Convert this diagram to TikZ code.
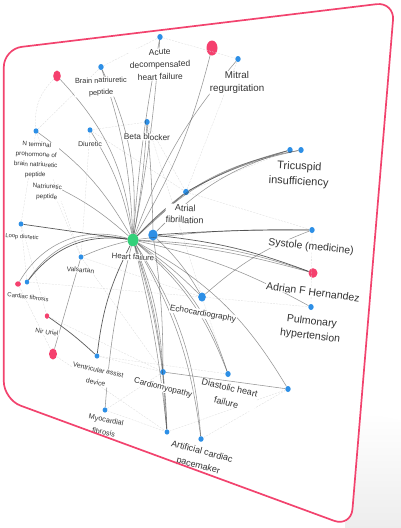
\documentclass[tikz,border=0pt]{standalone}
\usepackage{fontspec}
\setmainfont{Liberation Sans}
\usetikzlibrary{shapes.geometric}
\definecolor{cblue}{HTML}{2D8FE6}
\definecolor{cpink}{HTML}{F5406E}
\definecolor{cgreen}{HTML}{33D17A}
\definecolor{cborder}{HTML}{F2436E}
\definecolor{ctext}{HTML}{333333}
\newcommand\fsz[2]{\fontsize{#1}{#2}\selectfont}
\begin{document}
\begin{tikzpicture}[x=1pt,y=-1pt,
  bn/.style 2 args={ellipse, fill=cblue, inner sep=0pt, minimum width=#1, minimum height=#2},
  pn/.style 2 args={ellipse, fill=cpink, inner sep=0pt, minimum width=#1, minimum height=#2},
  gn/.style 2 args={ellipse, fill=cgreen, inner sep=0pt, minimum width=#1, minimum height=#2},
  lab/.style={fill=white, text=ctext, inner sep=0.5pt, align=center},
  e/.style={draw=black!75, draw opacity=.55, line width=.55pt},
  ed/.style={draw=black!80, draw opacity=.8, line width=.7pt},
  web/.style={draw=black!14, line width=.3pt, dash pattern=on 2pt off 1.2pt},
  cardfill/.style={fill=white, rounded corners=18pt},
  cardline/.style={draw=cborder, line width=1.7pt, rounded corners=18pt}]
\useasboundingbox (0,0) rectangle (401,528);
% shadow
\shade[top color=white, bottom color=black!7] (360,412) -- (401,420) -- (401,528) -- (345,528) -- cycle;
% card corners
\coordinate (cTL) at (3.8,49);
\coordinate (cTR) at (394.5,2);
\coordinate (cBR) at (351,527);
\coordinate (cBL) at (3.8,399.5);
\path[cardfill] (3.8,220) -- (cTL) -- (cTR) -- (cBR) -- (cBL) -- cycle;

% nodes
\node[bn={5.4}{6}] (adhf) at (160,37) {};
\node[bn={5.4}{6}] (bnp) at (101,67) {};
\node[pn={7.6}{11}] (pinkTL) at (57,76) {};
\node[pn={11}{15}] (pinkT) at (212,48) {};
\node[bn={5.4}{6}] (mit) at (238,59) {};
\node[bn={5.4}{6}] (bbk) at (147,122) {};
\node[bn={5}{5.4}] (diu) at (90,130) {};
\node[bn={5}{5.4}] (nt) at (36,131) {};
\coordinate (np) at (50,184);
\node[bn={5.4}{6}] (tr1) at (290,150) {};
\node[bn={5.4}{6}] (tr2) at (301,150) {};
\node[bn={5.8}{6.4}] (af) at (186,192) {};
\node[bn={4.8}{5.2}] (loop) at (21,224) {};
\node[gn={11}{12.6}] (hf) at (133,240) {};
\node[bn={9.4}{11}] (bb) at (153,235) {};
\node[bn={5.4}{6}] (sys) at (312,230) {};
\node[pn={9}{9.6}] (adr) at (313,273) {};
\node[bn={5.4}{6}] (pul) at (311,307) {};
\node[bn={7.7}{9}] (echo) at (202,297) {};
\node[bn={5.4}{6}] (dia) at (228,374) {};
\node[bn={5.4}{6}] (ext1) at (288,389) {};
\node[bn={5.6}{6}] (cm) at (163,372) {};
\node[bn={4.8}{5.2}] (pm0) at (167,432) {};
\node[bn={5.2}{5.6}] (pm) at (201,439) {};
\node[bn={4.8}{5.2}] (mf) at (105,410) {};
\node[bn={4.8}{5.2}] (vad) at (97,356) {};
\node[pn={8}{11}] (pinkB) at (53,354) {};
\node[pn={4.5}{5.5}] (nir) at (47,316) {};
\node[pn={5.8}{5.4}] (cfp) at (18,284) {};
\node[bn={4.5}{5}] (cf) at (27,282) {};
\node[bn={4.8}{5.2}] (val) at (81,257) {};

% faint web
\draw[web] (nt) -- (bnp);
\draw[web] (nt) -- (loop);
\draw[web] (diu) -- (bbk);
\draw[web] (bnp) -- (adhf);
\draw[web] (adhf) -- (mit);
\draw[web] (loop) -- (cf);
\draw[web] (cf) -- (echo);
\draw[web] (echo) -- (pul);
\draw[web] (val) -- (cm);
\draw[web] (vad) -- (dia);
\draw[web] (nir) -- (cm);
\draw[web] (pm0) -- (ext1);
\draw[web] (mf) -- (pm0);
\draw[web] (af) -- (sys);
\draw[web] (bbk) -- (af);
\draw[web] (mit) -- (af);
\draw[web] (diu) -- (val);
\draw[web] (np) -- (val);
\draw[web] (loop) -- (nir);
\draw[web] (vad) -- (cm);
\draw[web] (pinkTL) to[bend right=25] (nt);
\draw[web] (mf) -- (cm);
\draw[web] (pm) -- (ext1);
\draw[web] (cfp) -- (pinkB);
\draw[web] (val) -- (echo);
\draw[web] (af) -- (tr1);
\draw[web] (bbk) -- (echo);
\draw[web] (diu) -- (af);
\draw[web] (nt) -- (val);
\draw[web] (echo) -- (dia);
\draw[web] (pinkB) -- (pm0);
\draw[web] (sys) -- (pul);

% edges
\draw[e] (hf) to[bend right=18] (pinkTL);
\draw[e] (hf) to[bend right=8] (bnp);
\draw[e] (hf) to[bend right=14] (bnp);
\draw[e] (hf) to[bend right=3] (adhf);
\draw[e] (hf) to[bend left=3] (adhf);
\draw[e] (bb) to[bend right=2] (bbk);
\draw[e] (hf) to[bend right=3] (bbk);
\draw[e] (hf) to[bend right=8] (pinkT);
\draw[e] (hf) to[bend left=10] (mit);
\draw[e] (hf) to[bend right=10] (diu);
\draw[e] (hf) to[bend right=12] (nt);
\draw[e] (hf) to[bend right=8] (np);
\draw[ed] (hf) -- (loop);
\draw[ed] (hf) to[bend right=30] (cf);
\draw[e] (hf) to[bend right=34] (cf);
\draw[e] (hf) to[bend right=38] (cfp);
\draw[e] (hf) to[bend right=5] (val);
\draw[ed] (hf) to[bend right=10] (vad);
\draw[e] (hf) to[bend right=5] (mf);
\draw[e] (hf) to[bend left=6] (cm);
\draw[e] (hf) to[bend left=9] (cm);
\draw[e] (bb) to[bend left=4] (cm);
\draw[e] (hf) to[bend left=11] (pm);
\draw[e] (hf) to[bend left=14] (pm);
\draw[e] (hf) to[bend left=4] (pm0);
\draw[e] (hf) to[bend left=7] (pm0);
\draw[e] (hf) to[bend left=5] (echo);
\draw[e] (bb) to[bend left=8] (echo);
\draw[e] (hf) to[bend left=14] (dia);
\draw[e] (hf) to[bend left=17] (dia);
\draw[e] (hf) to[bend left=15] (ext1);
\draw[e] (hf) to[bend left=5] (adr);
\draw[e] (hf) to[bend left=8] (adr);
\draw[ed] (bb) to[bend left=7] (adr);
\draw[e] (hf) to[bend left=8] (pul);
\draw[ed] (bb) to[bend left=2] (sys);
\draw[e] (hf) to[bend left=4] (sys);
\draw[e] (hf) -- (af);
\draw[e] (hf) to[bend left=4] (af);
\draw[e] (hf) to[bend left=15] (tr1);
\draw[e] (hf) to[bend left=18] (tr2);
\draw[e] (bb) to[bend left=14] (tr1);
\draw[e] (af) to[bend left=6] (tr1);
\draw[e] (af) to[bend left=8] (tr2);
\draw[e] (echo) to[bend left=10] (sys);
\draw[e] (cm) -- (ext1);
\draw[e] (cm) to[bend left=2] (pm0);
\draw[e] (cm) to[bend right=2] (pm0);
\draw[ed] (nir) to[bend left=4] (vad);
\draw[e] (pinkB) -- (val);

% labels
\node[lab, font=\fsz{8.5}{12.5}, rotate=1.5] at (160,64.5) {Acute\\decompensated\\heart failure};
\node[lab, font=\fsz{7.4}{12}, rotate=1] at (101,87) {Brain natriuretic\\peptide};
\node[lab, font=\fsz{9.8}{13}, rotate=0.5] at (237,82.5) {Mitral\\regurgitation};
\node[lab, font=\fsz{11}{15}, rotate=-3] at (299,174.5) {Tricuspid\\insufficiency};
\node[lab, font=\fsz{8.3}{10}, rotate=-1] at (147,137) {Beta blocker};
\node[lab, font=\fsz{7}{9}, rotate=-2] at (90,144) {Diuretic};
\node[lab, font=\fsz{6.3}{10}, rotate=-3] at (36,160) {N terminal\\prohormone of\\brain natriuretic\\peptide};
\node[lab, font=\fsz{6.4}{10}, rotate=-3] at (47,192) {Natriuretic\\peptide};
\node[lab, font=\fsz{9}{12}, rotate=-3] at (185,214) {Atrial\\fibrillation};
\node[lab, font=\fsz{7.8}{9}, rotate=-3] at (133,257) {Heart failure};
\node[lab, font=\fsz{5.8}{7}, rotate=-4] at (22,237) {Loop diuretic};
\node[lab, font=\fsz{6.6}{8}, rotate=-5] at (80.5,270) {Valsartan};
\node[lab, font=\fsz{6}{7}, rotate=-7] at (28,297) {Cardiac fibrosis};
\node[lab, font=\fsz{6.4}{8}, rotate=-8] at (47,332) {Nir Uriel};
\node[lab, font=\fsz{6.8}{12.5}, rotate=-12] at (97,376) {Ventricular assist\\device};
\node[lab, font=\fsz{7.3}{12.5}, rotate=-12] at (105,426) {Myocardial\\fibrosis};
\node[lab, font=\fsz{8.2}{10}, rotate=-14] at (163,388) {Cardiomyopathy};
\node[lab, font=\fsz{9}{15}, rotate=-13] at (228,395) {Diastolic heart\\failure};
\node[lab, font=\fsz{8.3}{10}, rotate=-10] at (203,314) {Echocardiography};
\node[lab, font=\fsz{9}{14.5}, rotate=-15] at (200,459) {Artificial cardiac\\pacemaker};
\node[lab, font=\fsz{10.4}{12}, rotate=-6] at (311,247) {Systole (medicine)};
\node[lab, font=\fsz{10.5}{12}, rotate=-7.5] at (313,292) {Adrian F Hernandez};
\node[lab, font=\fsz{10.5}{14.5}, rotate=-7] at (311,329) {Pulmonary\\hypertension};

% card border on top
\path[cardline] (3.8,220) -- (cTL) -- (cTR) -- (cBR) -- (cBL) -- cycle;
\end{tikzpicture}
\end{document}
